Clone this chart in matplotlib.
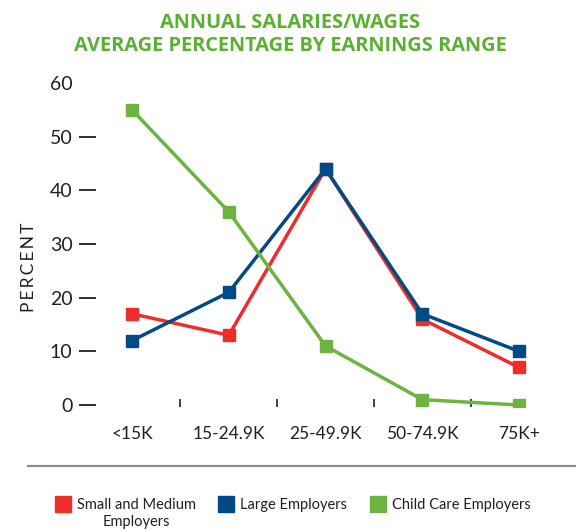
import matplotlib
matplotlib.use("Agg")
import matplotlib.pyplot as plt
from matplotlib.lines import Line2D

# данные с картинки
categories = ["<15K", "15-24.9K", "25-49.9K", "50-74.9K", "75K+"]
small_medium = [17, 13, 44, 16, 7]
large = [12, 21, 44, 17, 10]
child_care = [55, 36, 11, 1, 0]

series_names = ["Small and Medium", "Large Employers", "Child Care Employers"]
colors = ["#ee2d2b", "#004b85", "#6db33f"]
text_color = "#231f20"
title_lines = ["ANNUAL SALARIES/WAGES", "AVERAGE PERCENTAGE BY EARNINGS RANGE"]

plt.rcParams["font.family"] = ["Lato", "DejaVu Sans"]

fig = plt.figure(figsize=(5.76, 5.30), dpi=100)
ax = fig.add_axes([0.1667, 0.2328, 0.805, 0.6106])

x = list(range(len(categories)))
for vals, c in zip([small_medium, large, child_care], colors):
    ax.plot(x, vals, color=c, lw=2.5, marker="s", markersize=8, zorder=3)

ax.set_xlim(-0.372, 4.42)
ax.set_ylim(-0.3, 60)

for s in ax.spines.values():
    s.set_visible(False)

ax.set_yticks(range(0, 61, 10))
ax.tick_params(axis="y", length=12, width=1.3, color=text_color, labelsize=14,
               labelcolor=text_color, pad=5)
# у 60 нет черточки
ax.yaxis.get_major_ticks()[-1].tick1line.set_visible(False)

ax.set_xticks(x)
ax.set_xticklabels(categories)
ax.tick_params(axis="x", which="major", length=0, labelsize=12.5, labelcolor=text_color, pad=14)
ax.set_xticks([0.5, 1.5, 2.5, 3.5], minor=True)
ax.tick_params(axis="x", which="minor", direction="in", length=6, width=1.2, color=text_color)

ax.set_ylabel("P\u2009E\u2009R\u2009C\u2009E\u2009N\u2009T", fontsize=12.5, color=text_color)
ax.yaxis.set_label_coords(-0.127, 0.431)

# заголовок в две строки
for txt, ty in zip(title_lines, [0.957, 0.914]):
    fig.text(0.504, ty, txt, ha="center", va="center", fontsize=14.4, fontweight="bold",
             color="#5ab031", family=["Open Sans", "DejaVu Sans"])

# серая линия над легендой
fig.add_artist(Line2D([0.049, 1.0], [0.1208, 0.1208], transform=fig.transFigure,
                      color="#8c8c8c", lw=1.6))

handles = [Line2D([], [], marker="s", linestyle="none", markersize=11, color=c) for c in colors]
leg = fig.legend(handles, series_names, loc="center left", bbox_to_anchor=(0.094, 0.0475),
                 ncol=3, frameon=False, fontsize=10.5, handletextpad=0.35, columnspacing=1.5,
                 handlelength=1.2, borderaxespad=0, borderpad=0)
for t in leg.get_texts():
    t.set_color(text_color)

# вторая строка первой подписи — по центру под ней
fig.canvas.draw()
bb = leg.get_texts()[0].get_window_extent().transformed(fig.transFigure.inverted())
fig.text((bb.x0 + bb.x1) / 2, bb.y0 - 0.006, "Employers", ha="center", va="top",
         fontsize=10.5, color=text_color)

fig.savefig("out.png", dpi=100)
